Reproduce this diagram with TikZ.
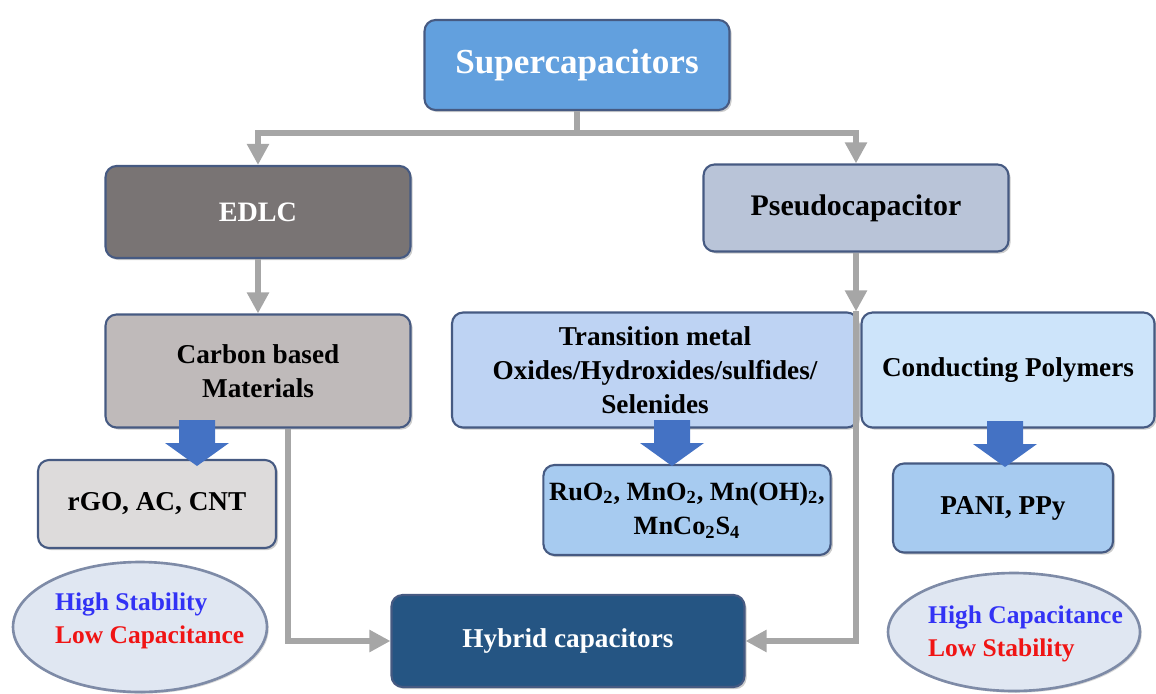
\documentclass[tikz,border=0pt]{standalone}
\usepackage{fontspec}
\setmainfont{Liberation Serif}
\usetikzlibrary{arrows.meta,shadows,shapes.geometric,calc}

\definecolor{supblue}{RGB}{98,160,222}
\definecolor{edlcgray}{RGB}{121,116,116}
\definecolor{pseudofill}{RGB}{185,196,216}
\definecolor{carbonfill}{RGB}{191,186,186}
\definecolor{transfill}{RGB}{190,211,243}
\definecolor{condfill}{RGB}{205,228,250}
\definecolor{rgofill}{RGB}{221,219,219}
\definecolor{oxfill}{RGB}{167,203,240}
\definecolor{hybfill}{RGB}{37,85,131}
\definecolor{ellfill}{RGB}{224,231,242}
\definecolor{boxline}{RGB}{70,90,130}
\definecolor{conngray}{RGB}{166,166,166}
\definecolor{blockblue}{RGB}{68,114,196}
\definecolor{hiblue}{RGB}{50,50,245}
\definecolor{lored}{RGB}{240,20,20}

% fat blue arrow, argument = top centre
\newcommand{\fatarrow}[1]{\fill[blockblue] (#1) ++(-18,0) -- ++(36,0) -- ++(0,23) -- ++(14,0) -- ++(-32,23) -- ++(-32,-23) -- ++(14,0) -- cycle;}

\begin{document}
\begin{tikzpicture}[x=0.02cm,y=-0.02cm,>={Triangle[length=0.42cm,width=0.42cm]},
  box/.style={draw=boxline,line width=1.2pt,rounded corners=0.22cm,minimum width=6.1cm,minimum height=1.8cm,align=center,
    font=\bfseries\fontsize{15.5}{19.5}\selectfont,drop shadow={shadow xshift=1.2pt,shadow yshift=-1.2pt,opacity=0.4}},
  oval/.style={ellipse,draw=boxline!70,line width=1.5pt,fill=ellfill,drop shadow={shadow xshift=1pt,shadow yshift=-1pt,opacity=0.3}},
  note/.style={anchor=west,align=left,font=\bfseries\fontsize{14.5}{18.5}\selectfont},
  conn/.style={draw=conngray,line width=3.2pt}]
  \useasboundingbox (0,0) rectangle (1156,693);

  \node[box,fill=supblue,text=white,font=\bfseries\fontsize{20}{24}\selectfont] (sup) at (577,65) {Supercapacitors};
  \node[box,fill=edlcgray,text=white,minimum height=1.84cm,font=\bfseries\fontsize{16}{20}\selectfont] (edlc) at (258,212) {EDLC};
  \node[box,fill=pseudofill,minimum height=1.74cm,font=\bfseries\fontsize{17}{21}\selectfont] (pseudo) at (856,208) {Pseudocapacitor};

  \node[box,fill=carbonfill,minimum height=2.26cm] (carbon) at (258,371) {Carbon based\\Materials};
  \node[box,fill=transfill,minimum width=8.12cm,minimum height=2.3cm] (trans) at (655,370) {Transition metal\\Oxides/Hydroxides/sulfides/\\Selenides};
  \node[box,fill=condfill,minimum width=5.86cm,minimum height=2.3cm] (cond) at (1008,370) {Conducting Polymers};

  \node[box,fill=rgofill,minimum width=4.76cm,minimum height=1.76cm] (rgo) at (157,504) {rGO, AC, CNT};
  \node[box,fill=oxfill,minimum width=5.7cm,font=\bfseries\fontsize{15}{19.5}\selectfont] (oxides) at (687,510) {RuO\textsubscript{2}, MnO\textsubscript{2}, Mn(OH)\textsubscript{2},\\MnCo\textsubscript{2}S\textsubscript{4}};
  \node[box,fill=oxfill,minimum width=4.4cm,minimum height=1.78cm] (pani) at (1003,508) {PANI, PPy};

  \node[box,fill=hybfill,text=white,minimum width=7.06cm,minimum height=1.84cm] (hybrid) at (568,641) {Hybrid capacitors};

  % ovals with the trade off
  \node[oval,minimum width=5.08cm,minimum height=2.6cm] (ovalL) at (140,627) {};
  \node[note] (ovalLtxt) at (49,621) {\textcolor{hiblue}{High Stability}\\\textcolor{lored}{Low Capacitance}};
  \node[oval,minimum width=5.04cm,minimum height=2.36cm] (ovalR) at (1014,632) {};
  \node[note] (ovalRtxt) at (922,634) {\textcolor{hiblue}{High Capacitance}\\\textcolor{lored}{Low Stability}};

  % connectors
  \draw[conn] (sup.south) -- ++(0,22) coordinate (split);
  \draw[conn,->] (split) -| (edlc.north);
  \draw[conn,->] (split) -| (pseudo.north);
  \draw[conn,->] (edlc.south) -- (carbon.north);
  \draw[conn,->] (pseudo.south) -- (pseudo.south |- trans.north) coordinate (pjoin);
  \draw[conn,->] (pjoin) |- (hybrid.east);
  \draw[conn,->] ($(carbon.south)+(30,0)$) |- (hybrid.west);

  \fatarrow{197,420}
  \fatarrow{672,420}
  \fatarrow{1005,421}
\end{tikzpicture}
\end{document}
